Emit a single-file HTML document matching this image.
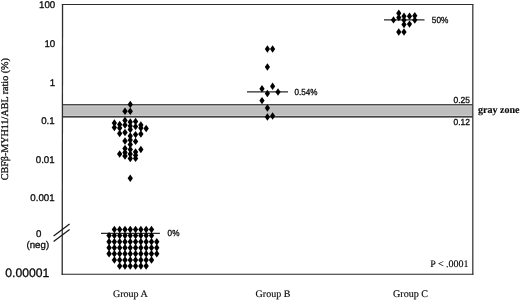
<!DOCTYPE html>
<html><head><meta charset="utf-8"><title>Figure</title>
<style>html,body{margin:0;padding:0;background:#fff}body{width:520px;height:300px;overflow:hidden}</style>
</head><body>
<svg width="520" height="300" viewBox="0 0 520 300" style="display:block;text-rendering:geometricPrecision">
<rect width="520" height="300" fill="#fff"/>
<rect x="62.5" y="104.8" width="410.3" height="12.1" fill="#bebebe"/>
<path d="M63 106H472.2M63 115.6H472.2" stroke="#d0d0d0" stroke-width="1" fill="none"/>
<path d="M62.5 104.75H472.8" stroke="#141414" stroke-width="1.2" fill="none"/>
<path d="M62.5 116.8H472.8" stroke="#141414" stroke-width="1.25" fill="none"/>
<path d="M62.55 4L62.2 274.8" stroke="#2e2e2e" stroke-width="1.3" fill="none"/>
<path d="M61.8 4.5H473.4" stroke="#2e2e2e" stroke-width="1" fill="none"/>
<path d="M472.8 4.1V274.8" stroke="#3a3a3a" stroke-width="1.3" fill="none"/>
<path d="M61.6 274.25H473.4" stroke="#262626" stroke-width="1.15" fill="none"/>
<path d="M53.6 236L69.6 224M53.6 241.4L69.6 229.4" stroke="#1a1a1a" stroke-width="1.25" fill="none"/>
<path d="M101 233.3H159.9M247 91.9H288M384 19.9H424.5" stroke="#2a2a2a" stroke-width="1.3" fill="none"/>
<g fill="#000"><path d="M114.4 225.8L117.0 229.5L114.4 233.2L111.7 229.5Z"/><path d="M119.7 225.8L122.3 229.5L119.7 233.2L117.0 229.5Z"/><path d="M125.0 225.8L127.7 229.5L125.0 233.2L122.3 229.5Z"/><path d="M130.3 225.8L132.9 229.5L130.3 233.2L127.6 229.5Z"/><path d="M135.6 225.8L138.2 229.5L135.6 233.2L132.9 229.5Z"/><path d="M140.9 225.8L143.5 229.5L140.9 233.2L138.2 229.5Z"/><path d="M146.2 225.8L148.8 229.5L146.2 233.2L143.5 229.5Z"/><path d="M151.5 225.8L154.2 229.5L151.5 233.2L148.8 229.5Z"/><path d="M109.1 231.9L111.8 235.6L109.1 239.3L106.4 235.6Z"/><path d="M114.4 231.9L117.0 235.6L114.4 239.3L111.7 235.6Z"/><path d="M119.7 231.9L122.3 235.6L119.7 239.3L117.0 235.6Z"/><path d="M125.0 231.9L127.7 235.6L125.0 239.3L122.3 235.6Z"/><path d="M130.3 231.9L132.9 235.6L130.3 239.3L127.6 235.6Z"/><path d="M135.6 231.9L138.2 235.6L135.6 239.3L132.9 235.6Z"/><path d="M140.9 231.9L143.5 235.6L140.9 239.3L138.2 235.6Z"/><path d="M146.2 231.9L148.8 235.6L146.2 239.3L143.5 235.6Z"/><path d="M151.5 231.9L154.2 235.6L151.5 239.3L148.8 235.6Z"/><path d="M109.1 238.0L111.8 241.7L109.1 245.4L106.4 241.7Z"/><path d="M114.4 238.0L117.0 241.7L114.4 245.4L111.7 241.7Z"/><path d="M119.7 238.0L122.3 241.7L119.7 245.4L117.0 241.7Z"/><path d="M125.0 238.0L127.7 241.7L125.0 245.4L122.3 241.7Z"/><path d="M130.3 238.0L132.9 241.7L130.3 245.4L127.6 241.7Z"/><path d="M135.6 238.0L138.2 241.7L135.6 245.4L132.9 241.7Z"/><path d="M140.9 238.0L143.5 241.7L140.9 245.4L138.2 241.7Z"/><path d="M146.2 238.0L148.8 241.7L146.2 245.4L143.5 241.7Z"/><path d="M151.5 238.0L154.2 241.7L151.5 245.4L148.8 241.7Z"/><path d="M156.8 238.0L159.4 241.7L156.8 245.4L154.1 241.7Z"/><path d="M109.1 244.1L111.8 247.8L109.1 251.5L106.4 247.8Z"/><path d="M114.4 244.1L117.0 247.8L114.4 251.5L111.7 247.8Z"/><path d="M119.7 244.1L122.3 247.8L119.7 251.5L117.0 247.8Z"/><path d="M125.0 244.1L127.7 247.8L125.0 251.5L122.3 247.8Z"/><path d="M130.3 244.1L132.9 247.8L130.3 251.5L127.6 247.8Z"/><path d="M135.6 244.1L138.2 247.8L135.6 251.5L132.9 247.8Z"/><path d="M140.9 244.1L143.5 247.8L140.9 251.5L138.2 247.8Z"/><path d="M146.2 244.1L148.8 247.8L146.2 251.5L143.5 247.8Z"/><path d="M151.5 244.1L154.2 247.8L151.5 251.5L148.8 247.8Z"/><path d="M156.8 244.1L159.4 247.8L156.8 251.5L154.1 247.8Z"/><path d="M109.1 250.1L111.8 253.8L109.1 257.5L106.4 253.8Z"/><path d="M114.4 250.1L117.0 253.8L114.4 257.5L111.7 253.8Z"/><path d="M119.7 250.1L122.3 253.8L119.7 257.5L117.0 253.8Z"/><path d="M125.0 250.1L127.7 253.8L125.0 257.5L122.3 253.8Z"/><path d="M130.3 250.1L132.9 253.8L130.3 257.5L127.6 253.8Z"/><path d="M135.6 250.1L138.2 253.8L135.6 257.5L132.9 253.8Z"/><path d="M140.9 250.1L143.5 253.8L140.9 257.5L138.2 253.8Z"/><path d="M146.2 250.1L148.8 253.8L146.2 257.5L143.5 253.8Z"/><path d="M151.5 250.1L154.2 253.8L151.5 257.5L148.8 253.8Z"/><path d="M156.8 250.1L159.4 253.8L156.8 257.5L154.1 253.8Z"/><path d="M114.4 256.3L117.0 260.0L114.4 263.7L111.7 260.0Z"/><path d="M119.7 256.3L122.3 260.0L119.7 263.7L117.0 260.0Z"/><path d="M125.0 256.3L127.7 260.0L125.0 263.7L122.3 260.0Z"/><path d="M130.3 256.3L132.9 260.0L130.3 263.7L127.6 260.0Z"/><path d="M135.6 256.3L138.2 260.0L135.6 263.7L132.9 260.0Z"/><path d="M140.9 256.3L143.5 260.0L140.9 263.7L138.2 260.0Z"/><path d="M146.2 256.3L148.8 260.0L146.2 263.7L143.5 260.0Z"/><path d="M151.5 256.3L154.2 260.0L151.5 263.7L148.8 260.0Z"/><path d="M119.7 262.3L122.3 266.0L119.7 269.7L117.0 266.0Z"/><path d="M125.0 262.3L127.7 266.0L125.0 269.7L122.3 266.0Z"/><path d="M130.3 262.3L132.9 266.0L130.3 269.7L127.6 266.0Z"/><path d="M135.6 262.3L138.2 266.0L135.6 269.7L132.9 266.0Z"/><path d="M140.9 262.3L143.5 266.0L140.9 269.7L138.2 266.0Z"/><path d="M146.2 262.3L148.8 266.0L146.2 269.7L143.5 266.0Z"/><path d="M114.4 119.3L117.0 123.0L114.4 126.7L111.7 123.0Z"/><path d="M114.4 123.8L117.0 127.5L114.4 131.2L111.7 127.5Z"/><path d="M119.7 120.8L122.3 124.5L119.7 128.2L117.0 124.5Z"/><path d="M119.7 124.3L122.3 128.0L119.7 131.7L117.0 128.0Z"/><path d="M119.7 129.8L122.3 133.5L119.7 137.2L117.0 133.5Z"/><path d="M119.7 150.3L122.3 154.0L119.7 157.7L117.0 154.0Z"/><path d="M125.0 107.6L127.7 111.3L125.0 115.0L122.3 111.3Z"/><path d="M125.0 116.8L127.7 120.5L125.0 124.2L122.3 120.5Z"/><path d="M125.0 121.3L127.7 125.0L125.0 128.7L122.3 125.0Z"/><path d="M125.0 128.8L127.7 132.5L125.0 136.2L122.3 132.5Z"/><path d="M125.0 137.3L127.7 141.0L125.0 144.7L122.3 141.0Z"/><path d="M125.0 144.8L127.7 148.5L125.0 152.2L122.3 148.5Z"/><path d="M125.0 148.8L127.7 152.5L125.0 156.2L122.3 152.5Z"/><path d="M125.0 152.3L127.7 156.0L125.0 159.7L122.3 156.0Z"/><path d="M130.3 100.7L132.9 104.4L130.3 108.1L127.6 104.4Z"/><path d="M130.3 107.6L132.9 111.3L130.3 115.0L127.6 111.3Z"/><path d="M130.3 118.3L132.9 122.0L130.3 125.7L127.6 122.0Z"/><path d="M130.3 122.3L132.9 126.0L130.3 129.7L127.6 126.0Z"/><path d="M130.3 125.8L132.9 129.5L130.3 133.2L127.6 129.5Z"/><path d="M130.3 132.3L132.9 136.0L130.3 139.7L127.6 136.0Z"/><path d="M130.3 136.3L132.9 140.0L130.3 143.7L127.6 140.0Z"/><path d="M130.3 140.8L132.9 144.5L130.3 148.2L127.6 144.5Z"/><path d="M130.3 145.8L132.9 149.5L130.3 153.2L127.6 149.5Z"/><path d="M130.3 150.3L132.9 154.0L130.3 157.7L127.6 154.0Z"/><path d="M130.3 154.8L132.9 158.5L130.3 162.2L127.6 158.5Z"/><path d="M130.3 174.6L132.9 178.3L130.3 182.0L127.6 178.3Z"/><path d="M135.6 117.8L138.2 121.5L135.6 125.2L132.9 121.5Z"/><path d="M135.6 122.9L138.2 126.6L135.6 130.3L132.9 126.6Z"/><path d="M135.6 130.9L138.2 134.6L135.6 138.3L132.9 134.6Z"/><path d="M135.6 137.7L138.2 141.4L135.6 145.1L132.9 141.4Z"/><path d="M135.6 148.3L138.2 152.0L135.6 155.7L132.9 152.0Z"/><path d="M135.6 151.5L138.2 155.2L135.6 158.9L132.9 155.2Z"/><path d="M135.6 154.7L138.2 158.4L135.6 162.1L132.9 158.4Z"/><path d="M140.9 121.3L143.5 125.0L140.9 128.7L138.2 125.0Z"/><path d="M140.9 124.3L143.5 128.0L140.9 131.7L138.2 128.0Z"/><path d="M140.9 130.3L143.5 134.0L140.9 137.7L138.2 134.0Z"/><path d="M140.9 145.8L143.5 149.5L140.9 153.2L138.2 149.5Z"/><path d="M146.2 124.8L148.8 128.5L146.2 132.2L143.5 128.5Z"/><path d="M267.4 45.3L270.0 49.0L267.4 52.7L264.8 49.0Z"/><path d="M272.6 45.3L275.2 49.0L272.6 52.7L270.0 49.0Z"/><path d="M267.4 63.3L270.0 67.0L267.4 70.7L264.8 67.0Z"/><path d="M272.6 82.6L275.2 86.3L272.6 90.0L270.0 86.3Z"/><path d="M262.0 85.1L264.6 88.8L262.0 92.5L259.4 88.8Z"/><path d="M267.4 89.8L270.0 93.5L267.4 97.2L264.8 93.5Z"/><path d="M278.0 88.3L280.6 92.0L278.0 95.7L275.4 92.0Z"/><path d="M262.0 96.9L264.6 100.6L262.0 104.3L259.4 100.6Z"/><path d="M267.4 104.3L270.0 108.0L267.4 111.7L264.8 108.0Z"/><path d="M267.4 113.3L270.0 117.0L267.4 120.7L264.8 117.0Z"/><path d="M272.6 112.3L275.2 116.0L272.6 119.7L270.0 116.0Z"/><path d="M393.5 16.2L396.1 19.9L393.5 23.6L390.9 19.9Z"/><path d="M398.8 9.6L401.4 13.3L398.8 17.0L396.2 13.3Z"/><path d="M398.8 13.9L401.4 17.6L398.8 21.3L396.2 17.6Z"/><path d="M404.0 12.6L406.6 16.3L404.0 20.0L401.4 16.3Z"/><path d="M404.0 16.4L406.6 20.1L404.0 23.8L401.4 20.1Z"/><path d="M404.0 20.8L406.6 24.5L404.0 28.2L401.4 24.5Z"/><path d="M409.5 12.6L412.1 16.3L409.5 20.0L406.9 16.3Z"/><path d="M409.5 20.4L412.1 24.1L409.5 27.8L406.9 24.1Z"/><path d="M414.8 12.1L417.4 15.8L414.8 19.5L412.2 15.8Z"/><path d="M414.8 16.4L417.4 20.1L414.8 23.8L412.2 20.1Z"/><path d="M398.8 28.3L401.4 32.0L398.8 35.7L396.2 32.0Z"/><path d="M404.0 28.3L406.6 32.0L404.0 35.7L401.4 32.0Z"/></g>
<text transform="translate(55.2 8.4) scale(1.0 1)" font-size="9.7" font-family="Liberation Sans, Arial, sans-serif" text-anchor="end" fill="#0c0c0c" stroke="#0c0c0c" stroke-width="0.3" >100</text>
<text transform="translate(55.2 47) scale(1.0 1)" font-size="9.7" font-family="Liberation Sans, Arial, sans-serif" text-anchor="end" fill="#0c0c0c" stroke="#0c0c0c" stroke-width="0.3" >10</text>
<text transform="translate(55.2 85.6) scale(1.0 1)" font-size="9.7" font-family="Liberation Sans, Arial, sans-serif" text-anchor="end" fill="#0c0c0c" stroke="#0c0c0c" stroke-width="0.3" >1</text>
<text transform="translate(54.6 123.6) scale(1.0 1)" font-size="9.7" font-family="Liberation Sans, Arial, sans-serif" text-anchor="end" fill="#0c0c0c" stroke="#0c0c0c" stroke-width="0.3" >0.1</text>
<text transform="translate(54.6 162.6) scale(1.0 1)" font-size="9.7" font-family="Liberation Sans, Arial, sans-serif" text-anchor="end" fill="#0c0c0c" stroke="#0c0c0c" stroke-width="0.3" >0.01</text>
<text transform="translate(54.6 201) scale(1.0 1)" font-size="9.7" font-family="Liberation Sans, Arial, sans-serif" text-anchor="end" fill="#0c0c0c" stroke="#0c0c0c" stroke-width="0.3" >0.001</text>
<text transform="translate(38.8 237) scale(1.0 1)" font-size="9.7" font-family="Liberation Sans, Arial, sans-serif" text-anchor="middle" fill="#0c0c0c" stroke="#0c0c0c" stroke-width="0.3" >0</text>
<text transform="translate(37.8 248) scale(1.0 1)" font-size="9.7" font-family="Liberation Sans, Arial, sans-serif" text-anchor="middle" fill="#0c0c0c" stroke="#0c0c0c" stroke-width="0.3" >(neg)</text>
<text transform="translate(49.4 277) scale(1.0 1)" font-size="12.2" font-family="Liberation Sans, Arial, sans-serif" text-anchor="end" fill="#0c0c0c" stroke="#0c0c0c" stroke-width="0.3" >0.00001</text>
<text transform="translate(167.6 235.6) scale(0.92 1)" font-size="8.9" font-family="Liberation Sans, Arial, sans-serif" text-anchor="start" fill="#0c0c0c" stroke="#0c0c0c" stroke-width="0.3" >0%</text>
<text transform="translate(294.6 95.2) scale(0.91 1)" font-size="8.9" font-family="Liberation Sans, Arial, sans-serif" text-anchor="start" fill="#0c0c0c" stroke="#0c0c0c" stroke-width="0.3" >0.54%</text>
<text transform="translate(431.8 23.0) scale(0.93 1)" font-size="8.9" font-family="Liberation Sans, Arial, sans-serif" text-anchor="start" fill="#0c0c0c" stroke="#0c0c0c" stroke-width="0.3" >50%</text>
<text transform="translate(469.9 102.5) scale(0.96 1)" font-size="8.8" font-family="Liberation Sans, Arial, sans-serif" text-anchor="end" fill="#0c0c0c" stroke="#0c0c0c" stroke-width="0.3" >0.25</text>
<text transform="translate(469.9 125.2) scale(0.96 1)" font-size="8.8" font-family="Liberation Sans, Arial, sans-serif" text-anchor="end" fill="#0c0c0c" stroke="#0c0c0c" stroke-width="0.3" >0.12</text>
<text transform="translate(478 113.2) scale(0.975 1)" font-size="10.3" font-family="Liberation Serif, Times New Roman, serif" text-anchor="start" fill="#0c0c0c" stroke="#0c0c0c" stroke-width="0.15" font-weight="bold">gray zone</text>
<text transform="translate(468.6 267) scale(1.0 1)" font-size="10" font-family="Liberation Serif, Times New Roman, serif" text-anchor="end" fill="#0c0c0c" stroke="#0c0c0c" stroke-width="0.15" >P &lt; .0001</text>
<text transform="translate(113 297.3) scale(1.0 1)" font-size="10" font-family="Liberation Serif, Times New Roman, serif" text-anchor="start" fill="#0c0c0c" stroke="#0c0c0c" stroke-width="0.15" >Group A</text>
<text transform="translate(255.6 297.3) scale(1.0 1)" font-size="10" font-family="Liberation Serif, Times New Roman, serif" text-anchor="start" fill="#0c0c0c" stroke="#0c0c0c" stroke-width="0.15" >Group B</text>
<text transform="translate(393 297.3) scale(1.0 1)" font-size="10.1" font-family="Liberation Serif, Times New Roman, serif" text-anchor="start" fill="#0c0c0c" stroke="#0c0c0c" stroke-width="0.15" >Group C</text>
<text transform="translate(7.5 119.2) rotate(-90)" font-size="10.1" font-family="Liberation Serif, Times New Roman, serif" text-anchor="middle" fill="#0c0c0c" stroke="#0c0c0c" stroke-width="0.3">CBFβ-MYH11/ABL ratio (%)</text>
</svg>
</body></html>
